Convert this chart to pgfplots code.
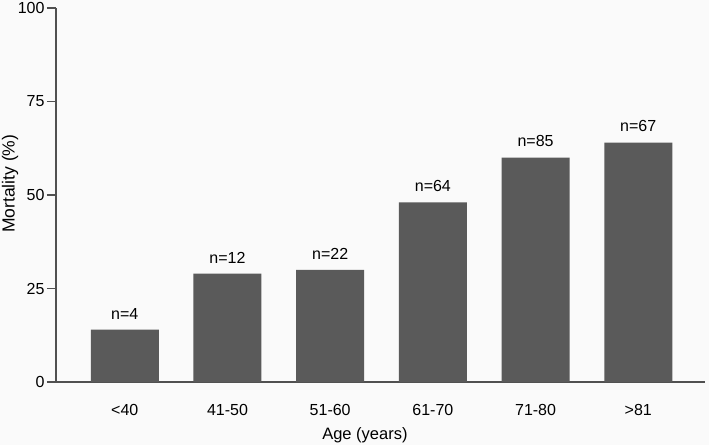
\documentclass[border=0pt]{standalone}
\usepackage{fontspec}
\setmainfont{Liberation Sans}
\usepackage{pgfplots}
\pgfplotsset{compat=1.18}
\definecolor{barc}{HTML}{5A5A5A}
\definecolor{axc}{HTML}{505050}
\definecolor{bgc}{HTML}{FAFAFA}
\begin{document}
\begin{tikzpicture}[x=1pt,y=1pt]
\fill[bgc] (0,0) rectangle (709,445);
\useasboundingbox (0,0) rectangle (709,445);
\begin{axis}[
  at={(56pt,63pt)}, anchor=south west,
  scale only axis, width=649pt, height=374pt,
  xmin=-0.67, xmax=5.65, ymin=0, ymax=100,
  axis x line=bottom, axis y line=left,
  axis line style={axc, line width=1.1pt, -},
  ytick={0,25,50,75,100},
  xtick={0,...,5},
  xticklabels={<40,41-50,51-60,61-70,71-80,>81},
  xtick style={draw=none},
  ytick style={draw=axc, line width=1.1pt},
  tick align=outside, major tick length=9pt,
  /pgf/number format/assume math mode=true,
  tick label style={font=\fontsize{16}{18}\selectfont, black},
  yticklabel style={xshift=1pt},
  xticklabel style={anchor=base, yshift=-24pt},
  xlabel={Age (years)}, ylabel={Mortality (\%)},
  xlabel style={font=\fontsize{16.5}{18}\selectfont, at={(axis description cs:0.476,0)}, anchor=base, yshift=-57pt},
  ylabel style={font=\fontsize{17.5}{19}\selectfont, at={(axis description cs:-0.0709,0.53)}, anchor=center},
  ybar, bar width=68pt,
  nodes near coords,
  point meta=explicit symbolic,
  every node near coord/.append style={font=\fontsize{16}{18}\selectfont, black, yshift=7pt},
  clip=false,
]
\addplot[fill=barc, draw=none] table[meta=n] {
x y n
0 14 n=4
1 29 n=12
2 30 n=22
3 48 n=64
4 60 n=85
5 64 n=67
};
\end{axis}
\end{tikzpicture}
\end{document}
